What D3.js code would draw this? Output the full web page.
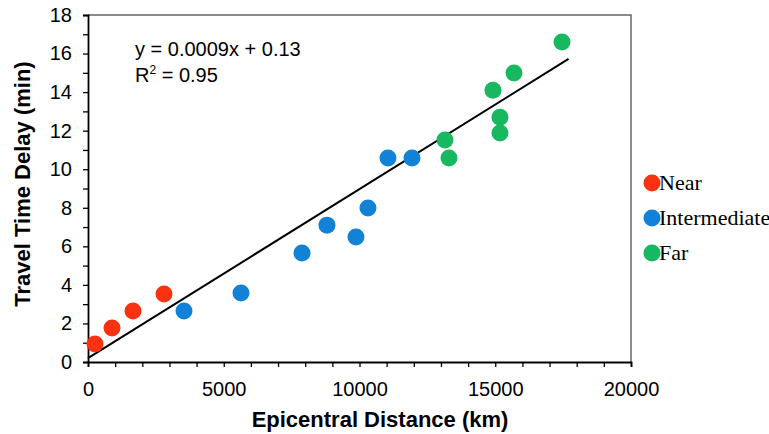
<!DOCTYPE html>
<html>
<head>
<meta charset="utf-8">
<script src="https://cdn.jsdelivr.net/npm/d3@7"></script>
<style>
  body { margin: 0; background: #fff; }
  svg { display: block; }
</style>
</head>
<body>
<div id="chart"></div>
<script>
// distance (km) and delay (min)
const nearX = [258, 884, 1657, 2799];
const nearY = [0.93, 1.76, 2.64, 3.53];
const interX = [3536, 5635, 7882, 8802, 9870, 10312, 11049, 11933];
const interY = [2.64, 3.58, 5.65, 7.1, 6.48, 7.99, 10.58, 10.58];
const farX = [13148, 13296, 14916, 15174, 15174, 15690, 17458];
const farY = [11.51, 10.58, 14.1, 12.7, 11.88, 14.99, 16.6];

// trend line end points as drawn
const trendX = [0, 17700];
const trendY = [0.2, 15.72];

const groups = ["Near", "Intermediate", "Far"];
const groupColors = ["#fa3212", "#1182d5", "#17b860"];
const xTicks = d3.range(0, 20001, 1000);
const yTicks = d3.range(0, 19, 1);
const eqText = "y = 0.0009x + 0.13";
const r2Text = "0.95";

const W = 769, H = 434;
const margin = { top: 15, right: 138, bottom: 72, left: 88 },
    width = W - margin.left - margin.right,
    height = H - margin.top - margin.bottom;

const svg = d3.select("#chart").append("svg")
    .attr("width", W)
    .attr("height", H);

const g = svg.append("g")
    .attr("transform", `translate(${margin.left},${margin.top})`);

const x = d3.scaleLinear().domain([0, 20000]).range([0, width]);
const y = d3.scaleLinear().domain([0, 18]).range([height, 0]);

// build point table
const points = [];
[[nearX, nearY], [interX, interY], [farX, farY]].forEach((s, i) => {
    s[0].forEach((v, j) => points.push({ x: v, y: s[1][j], group: i }));
});

// frame (top/right in grey)
g.append("path")
    .attr("d", `M0,0H${width}V${height}`)
    .attr("fill", "none")
    .attr("stroke", "#666")
    .attr("stroke-width", 1.5);

// axes
const xAxis = g.append("g")
    .attr("transform", `translate(0,${height})`)
    .call(d3.axisBottom(x).tickValues(xTicks).tickSize(5)
        .tickFormat(d => d % 5000 === 0 ? d : ""));

const yAxis = g.append("g")
    .call(d3.axisLeft(y).tickValues(yTicks).tickSize(5)
        .tickFormat(d => d % 2 === 0 ? d : ""));

[xAxis, yAxis].forEach(a => {
    a.select(".domain").attr("stroke", "#000").attr("stroke-width", 1.8);
    a.selectAll(".tick line").attr("stroke", "#000").attr("stroke-width", 1.3);
    a.selectAll(".tick text")
        .attr("fill", "#000")
        .style("font-family", "'Liberation Sans', Arial, sans-serif")
        .style("font-size", "20px");
});
xAxis.selectAll(".tick text").attr("y", 8).attr("dy", "26px");
yAxis.selectAll(".tick text").attr("x", -16);

// trend line
g.append("path")
    .datum(trendX.map((v, i) => [v, trendY[i]]))
    .attr("d", d3.line().x(d => x(d[0])).y(d => y(d[1])))
    .attr("fill", "none")
    .attr("stroke", "#000")
    .attr("stroke-width", 2);

// points
g.selectAll("circle.pt")
    .data(points)
    .enter().append("circle")
    .attr("class", "pt")
    .attr("cx", d => x(d.x))
    .attr("cy", d => y(d.y))
    .attr("r", 8.5)
    .attr("fill", d => groupColors[d.group]);

// equation
const eq = g.append("text")
    .attr("x", 47)
    .attr("y", 41)
    .style("font-family", "'Liberation Sans', Arial, sans-serif")
    .style("font-size", "20px")
    .attr("fill", "#000");
eq.append("tspan").text(eqText);
const r2 = g.append("text")
    .attr("x", 47)
    .attr("y", 67)
    .style("font-family", "'Liberation Sans', Arial, sans-serif")
    .style("font-size", "20px")
    .attr("fill", "#000");
r2.append("tspan").text("R");
r2.append("tspan").attr("dy", -8).style("font-size", "12px").text("2");
r2.append("tspan").attr("dy", 8).text(" = " + r2Text);

// axis titles
svg.append("text")
    .attr("x", 380)
    .attr("y", 427)
    .attr("text-anchor", "middle")
    .style("font-family", "'Liberation Sans', Arial, sans-serif")
    .style("font-size", "22px")
    .style("font-weight", "bold")
    .text("Epicentral Distance (km)");

svg.append("text")
    .attr("transform", "translate(30,184) rotate(-90)")
    .attr("text-anchor", "middle")
    .style("font-family", "'Liberation Sans', Arial, sans-serif")
    .style("font-size", "22px")
    .style("font-weight", "bold")
    .text("Travel Time Delay (min)");

// legend
const legend = svg.append("g").attr("transform", "translate(652,183)");
const li = legend.selectAll("g")
    .data(groups)
    .enter().append("g")
    .attr("transform", (d, i) => `translate(0,${i * 35})`);
li.append("circle").attr("r", 8.5).attr("fill", (d, i) => groupColors[i]);
li.append("text")
    .attr("x", 7)
    .attr("y", 7)
    .style("font-family", "'Liberation Serif', 'Times New Roman', serif")
    .style("font-size", "22px")
    .attr("fill", "#000")
    .text(d => d);
</script>
</body>
</html>
